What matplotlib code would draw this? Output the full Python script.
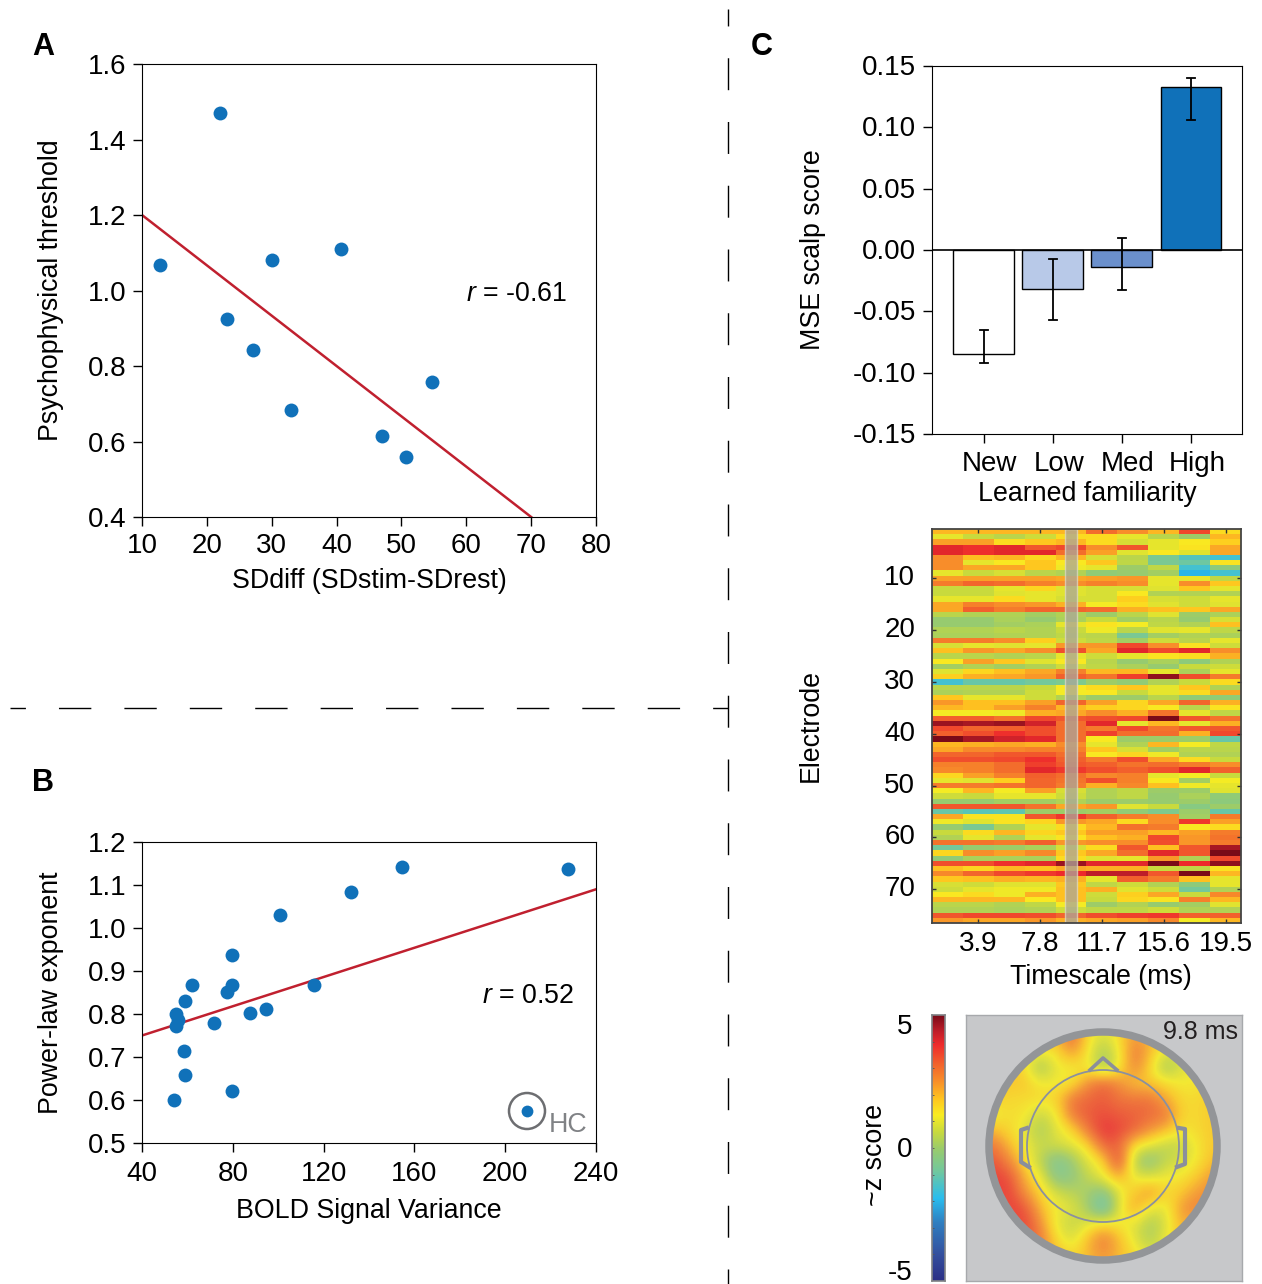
import matplotlib
matplotlib.use('Agg')
import matplotlib.pyplot as plt
import numpy as np
from matplotlib.colors import LinearSegmentedColormap
from matplotlib.patches import Circle
from matplotlib.transforms import ScaledTranslation

plt.rcParams['font.family'] = ['Liberation Sans', 'DejaVu Sans']
plt.rcParams['mathtext.fontset'] = 'custom'
plt.rcParams['mathtext.it'] = 'Liberation Sans:italic'
plt.rcParams['mathtext.rm'] = 'Liberation Sans'

W, H = 1262, 1284

# panel A
a_x = [22, 12.8, 30, 40.7, 23.1, 27.1, 33, 47, 50.7, 54.7]
a_y = [1.47, 1.067, 1.08, 1.11, 0.925, 0.842, 0.683, 0.615, 0.56, 0.757]
a_fit_x = [10, 70]
a_fit_y = [1.2, 0.4]

# panel B
b_x = [227.7, 154.5, 132, 101, 79.6, 62, 79.6, 77.4, 59, 55, 55.9, 55, 71.7, 87.6, 94.6,
       115.8, 58.5, 59, 79.6, 54]
b_y = [1.137, 1.142, 1.084, 1.03, 0.937, 0.867, 0.867, 0.851, 0.83, 0.80, 0.786, 0.772,
       0.78, 0.802, 0.812, 0.867, 0.714, 0.658, 0.621, 0.6]
b_fit_x = [40, 240]
b_fit_y = [0.75, 1.09]
hc_x, hc_y = 209.6, 0.574

# panel C bars
bar_names = ['New', 'Low', 'Med', 'High']
bar_vals = [-0.085, -0.032, -0.014, 0.133]
bar_lo = [-0.092, -0.057, -0.033, 0.106]
bar_hi = [-0.065, -0.007, 0.010, 0.140]
bar_colors = ['white', '#b8c9e8', '#6b90cc', '#1071b9']

# electrode x timescale, z scores
heat_rows = [
    [2, 2, 2, 2, 2, 3, 2.5, 2, 3.5, 1.5],
    [1, .6, .4, .7, 1.5, 1.5, 1, .4, 0, 2],
    [2.3, 2.3, 1.5, 1.8, 2, 1.5, .8, 1, 1.3, 1.7],
    [4, 3.8, 4, 3.3, 3.5, 2.5, 3.3, 1, 1.4, 2.2],
    [4, 3.8, 4, 4, 3, 2.3, .9, 1.3, .9, 2.2],
    [2.5, 1.9, 2, 1.6, 2, .8, .4, -.7, -1.3, -1.5],
    [2.5, 1, 1.3, 1.8, 1.3, 1.8, .5, -.7, -.9, 1.4],
    [2.5, 2.2, 2.2, 1.8, 1.1, 1, 0, .5, -1.5, -.3],
    [1, .6, .8, .4, .3, -.2, -.1, .1, -2, -1.5],
    [2.3, 2.3, 2.3, 2.3, 2.2, 2.3, 2.4, 1, 1, .5],
    [2.8, 3.1, 3, 2.7, 2.5, 2.7, 2.5, 1, 2.5, 1.8],
    [.6, .6, 1, 1.6, .9, .8, .8, .9, 1.8, 1],
    [.6, .6, .9, 1, .9, .8, 1.3, .3, .3, .3],
    [1, 1, 1.5, 1, .8, .8, 1.7, .8, .7, 1],
    [2.2, 2.7, 2.5, 2.4, 2.1, 1.2, 1.5, .9, .7, .9],
    [2.2, 3.2, 2.8, 3.1, 3.1, 3, 2.1, 1.9, 1.8, 2.2],
    [.4, .3, .3, .1, .3, 0, .4, .9, 0, .2],
    [-.1, -.1, .2, -.1, .2, .6, .1, .4, -.1, .8],
    [-.1, -.1, .1, .2, 1, 1.4, 1.2, .5, .3, 1.9],
    [.3, .3, .4, .3, .6, 1.1, .4, .9, 1, .5],
    [.2, .2, .3, .3, .5, .4, -.7, .1, .3, .2],
    [2.8, 2.8, 2.5, 1.7, .7, .5, .1, .7, .4, 1],
    [.8, 1, .9, 1, 2.4, 2.4, 3.5, 2.5, 1.4, .7],
    [1.9, 2.4, 2.2, 2.5, 3.4, 2.2, 4, 3.5, 4, 2.5],
    [.4, .4, .3, .4, 1, .7, 1, 1.4, 1.5, 2.1],
    [1.3, 2.3, 1.8, .9, 1.3, .4, -.1, .2, -.3, .3],
    [.1, .3, .1, .3, .7, .5, .2, -.1, .6, .7],
    [.9, 1.6, 1.9, 2.2, 2.7, 2, 2, 1, .2, 1],
    [1.7, 2.1, 2.2, 2.4, 3.2, 2.9, 3.6, 4.8, 3.4, 2.8],
    [-1.5, -1, -1, -.8, -.6, 0, -.2, .3, .6, 1.5],
    [.4, .4, .4, .6, 1.3, 1.5, 1.8, 1, 1.8, .3],
    [.2, .3, .3, .7, 1.2, 1.3, .6, 1, 1.5, 2.2],
    [1.8, 1, 1, .7, .3, 0, 0, .4, -.2, -.2],
    [2.4, 1.9, 1.9, 2.3, 3.1, 2.3, 1.6, 2.2, 3.1, 2.1],
    [2, 1.9, 2.3, 2.7, 2, 1.7, 1.6, 1.3, .4, 1.4],
    [1.2, 1.2, 1.1, 2.1, 2.2, 2.5, 2.1, 2.9, 1, .5],
    [3.2, 3.2, 2.9, 3.5, 3.3, 3.4, 3.5, 5, 3.3, 2.9],
    [4.7, 4.6, 4.7, 4.2, 3, 4, 1, 2, 1, 2.1],
    [3.5, 3.1, 3.2, 3.4, 3, 2.8, 3.5, 2.9, 3.3, 3.3],
    [3.2, 3.4, 3.8, 3.4, 3, 3.6, 3, 3, 2.1, 3.5],
    [5, 4.6, 4.2, 4, 3, 1.3, 0, 0, 0, -1],
    [2, 2.1, 2.2, 2.1, 2.5, 1, .3, 2, 1.2, .5],
    [2.2, 2.6, 2.6, 2.7, 2.7, 1.8, .8, .1, .4, .4],
    [3.1, 3.1, 3.3, 3.3, 3, 1.3, 1.6, 1.1, .3, .3],
    [3.4, 3.4, 3.5, 3.8, 3.2, 2.8, 3.4, 2.2, 1.5, .6],
    [2.7, 2.7, 3, 3.6, 3.3, 3.2, 2.9, 3, 2.8, 2.5],
    [2.6, 2.7, 3, 4, 3.7, 3.4, 3.2, 3.4, 4, 3.2],
    [1.6, 2.3, 2.7, 3.2, 3, 2.6, 2.7, 1, 1.2, .6],
    [1, .9, 1.7, 3.1, 2.9, 3.4, 2.7, 1.3, .1, 1.2],
    [2.8, 2.8, 2.9, 3.1, 2.8, 2.1, 2.6, 1.9, 1.1, 1],
    [1.2, 2, 1.2, 2.3, .8, .3, .5, 0, 0, .9],
    [.7, .6, 1, 1, .7, .3, .5, -.1, .2, -.2],
    [-.1, -.1, .1, .1, .3, 0, 0, -.1, 0, -.3],
    [3.3, 3.3, 3.3, 2.9, 2.2, 2.4, .9, .6, -.4, 0],
    [-1, -1.2, -1.1, 0, 0, .1, -.2, -.6, 0, -1],
    [2.2, 1.4, 1.4, 3.3, 3.7, 3.2, 2.8, 2.5, .1, 2.8],
    [1.1, .9, 1.4, 1.6, 2.4, 2.2, 1.5, 2.5, 3.7, 2.3],
    [-.1, -.7, .3, 1, 1.5, 2, 2.9, 2.8, 1.3, 1.5],
    [.6, 1.5, 2, 1.6, 1.8, 2.3, 2.3, 2, 2.3, 2.8],
    [.3, 1, .3, 1, 1.4, 1.9, 2.1, 3.5, 2.4, 2.9],
    [2.9, 2.9, 2.8, 3.2, 2.4, 2.5, 2.5, 3.4, 2.4, 2.8],
    [-.8, -.1, 0, .2, .8, 1.5, 3.3, 1.9, 3.3, 4.6],
    [1.6, 2.5, 2.3, 2.6, 1.8, 2.2, 3, 4, 3.3, 5],
    [-.2, .2, .2, .2, 1.5, .9, 1, 2.4, .3, 3.5],
    [3.4, 3.4, 3.8, 4, 4.7, 4, 4, 5, 3.9, 4.8],
    [1.9, 1.6, 2, 1.9, 2.2, 2.1, 2.1, .6, .5, 1.4],
    [2.6, 3.1, 3.5, 3.7, 3.9, 4.4, 4.4, 3.3, 5, 2],
    [1.8, 1.9, 2.1, 2, 2.1, 1, 3.2, 2.8, 1.9, 1],
    [.8, .7, .9, .9, 1.8, .5, .7, .3, -.3, 1],
    [.7, 1, 1.1, 1.1, 1.9, 2.1, .9, .7, -.8, .3],
    [1.3, 1.5, 1.1, 2.1, 1.9, .7, 1.7, 2.2, .6, 2.6],
    [2, 2, 2, 1.3, 1.9, .6, 1.6, 1.4, 2.7, 2],
    [.4, .4, .3, .5, 1.2, 0, .3, -.1, .1, .9],
    [.3, .3, .2, .3, .7, .5, .5, .7, .3, .3],
    [3.3, 3.5, 3.5, 3.4, 3.1, 3.4, 3.6, 3.7, 3.2, 3.2],
    [2.4, 2.2, 2.2, 2.4, 2.1, 2.2, 2.3, 2.6, 1.2, 2],
]
heat_xticks = [3.9, 7.8, 11.7, 15.6, 19.5]
heat_yticks = [10, 20, 30, 40, 50, 60, 70]

# scalp map at 9.8 ms
topo = [
    [2, 2, 2, 2, 2, 3.3, 1.5, .8, 1.5, 2.5, 2, 1.5, 1.5, 1.5, 1.5],
    [2, 2, 1.5, 1.3, 1.4, 2.6, 1.3, .1, 1.2, 3, 2, 1, 1, 1.5, 1.5],
    [2, 2, 1.4, -.1, 1.2, 1.2, 1.3, -.1, 1.2, 2.9, 1.5, -.1, .9, 1.3, 1.5],
    [1.8, 1.8, 1.8, 1.2, 1.2, 1.3, 2.6, 3.3, 2.6, 1.8, 1.8, 1.5, 1.2, 1.3, 1.5],
    [1.8, 1.5, 1.5, 1.5, 1.6, 3, 3.2, 3.4, 3, 3, 3, 2.2, 1.5, 1.5, 1.8],
    [1, 1.5, 1.3, .6, 1.2, 3, 3.4, 3.6, 3.4, 3.3, 3.2, 3, 1.6, 1.5, 1.8],
    [2, 1.5, 1, .1, 1, 1.5, 3, 4, 3.7, 3.3, 2.5, 2, 1.3, 1.5, 1.8],
    [3, 2, 1.2, .6, .8, 1, 1.5, 3.3, 3.3, 1.3, 1, .4, .6, 1.3, 1.8],
    [3.5, 2.7, 1.5, .4, -.8, -.1, 1, 1.5, 4, .2, -.5, .6, .8, 1.3, 2],
    [3.8, 3.6, 2, 1.2, -.6, -.3, .5, 1.2, 2.2, 1, .9, 1.2, 1.3, 1.8, 2.5],
    [3.7, 3.8, 2.5, 1.6, .8, .4, .1, -.6, 1, 1.8, 2.6, 1.5, 1.8, 2.5, 2.6],
    [3, 3.9, 3.5, 2, 1.2, 1, .1, -1.6, 1, 2.4, 1, 1, 2.5, 2.8, 2.5],
    [3, 3.5, 3.8, 2.6, 1, .5, 1, 1.6, 1.2, 1, .1, .9, 2.2, 2, 2],
    [3, 3, 3.5, 3, 1.5, .8, 2, 3, 2, 1, .2, 1.2, 1.8, 1.8, 1.8],
    [3, 3, 3, 2.5, 2, 1.5, 2, 2.5, 2, 1.5, 1, 1.2, 1.5, 1.5, 1.5],
]

# colour stops
z_stops = [-5, -4, -2.8, -1.9, -0.9, 0, 0.6, 1.25, 1.8, 2.5, 3.2, 3.9, 4.4, 5]
z_colors = ['#2b2f86', '#34509f', '#2f7fc1', '#29bdef', '#70c8a0', '#9ccc6a', '#c8da3e',
            '#f9ed22', '#ffc91f', '#f9902a', '#f2602d', '#ee2a2c', '#c01e2a', '#7a0a18']
zcmap = LinearSegmentedColormap.from_list(
    'zscore', [((z + 5) / 10, c) for z, c in zip(z_stops, z_colors)], N=256)

BLUE = '#1071b9'
RED = '#c0202f'
FS = 19.3
TICK_FS = 20


def px_axes(x0, y0, x1, y1, **kw):
    return fig.add_axes([x0 / W, 1 - y1 / H, (x1 - x0) / W, (y1 - y0) / H], **kw)


def nudge(labels, dx_px, dy_px):
    # shift tick labels by some pixels, dy positive is up
    off = ScaledTranslation(dx_px / 100, dy_px / 100, fig.dpi_scale_trans)
    for lab in labels:
        lab.set_transform(lab.get_transform() + off)


fig = plt.figure(figsize=(W / 100, H / 100), dpi=100)

# overlay in pixel coordinates, for dashes and panel letters
over = px_axes(0, 0, W, H, zorder=10)
over.set_xlim(0, W)
over.set_ylim(H, 0)
over.axis('off')
over.plot([10, 728], [708, 708], color='black', lw=1, linestyle=(12.2, (23.3, 23.8)))
over.plot([728, 728], [9, 1284], color='black', lw=1, linestyle=(10.8, (23, 22.9)))
for letter, lx, ly in [('A', 32, 47), ('B', 32, 783), ('C', 751, 47)]:
    over.text(lx, ly, letter, fontsize=22, fontweight='bold', va='center', ha='left')

# A
ax = px_axes(142, 64, 596, 517)
ax.scatter(a_x, a_y, s=100, color=BLUE, zorder=3, linewidths=0)
ax.plot(a_fit_x, a_fit_y, color=RED, lw=1.8)
ax.set_xlim(10, 80)
ax.set_ylim(0.4, 1.6)
ax.set_xticks(range(10, 81, 10))
ax.set_yticks(np.arange(0.4, 1.61, 0.2))
ax.set_yticklabels(['0.4', '0.6', '0.8', '1.0', '1.2', '1.4', '1.6'])
ax.tick_params(labelsize=TICK_FS, length=6.5, width=1, pad=5)
ax.set_xlabel('SDdiff (SDstim-SDrest)', fontsize=FS, labelpad=6.5)
ax.set_ylabel('Psychophysical threshold', fontsize=FS, labelpad=17)
over.text(466, 294, r'$\mathit{r}$ = -0.61', fontsize=FS, va='center')

# B
ax = px_axes(142, 842, 596, 1143)
ax.scatter(b_x, b_y, s=100, color=BLUE, zorder=3, linewidths=0)
ax.plot(b_fit_x, b_fit_y, color=RED, lw=1.8)
ax.set_xlim(40, 240)
ax.set_ylim(0.5, 1.2)
ax.set_xticks(range(40, 241, 40))
ax.set_yticks(np.arange(0.5, 1.21, 0.1))
ax.set_yticklabels(['0.5', '0.6', '0.7', '0.8', '0.9', '1.0', '1.1', '1.2'])
ax.tick_params(labelsize=TICK_FS, length=6.5, width=1, pad=5)
ax.tick_params(axis='x', pad=6.5)
ax.set_xlabel('BOLD Signal Variance', fontsize=FS, labelpad=8)
ax.set_ylabel('Power-law exponent', fontsize=FS, labelpad=17)
over.text(482, 996, r'$\mathit{r}$ = 0.52', fontsize=FS, va='center')
ax.scatter([hc_x], [hc_y], s=72, color=BLUE, zorder=3, linewidths=0)
over.add_patch(Circle((527, 1111), 18, fill=False, edgecolor='#6d6e71', lw=1.8))
over.text(549, 1125, 'HC', fontsize=FS, color='#808285', va='center')

# C bars
ax = px_axes(932, 66, 1242, 434)
pos = np.arange(1, 5)
ax.bar(pos, bar_vals, width=0.88, color=bar_colors, edgecolor='black', linewidth=1)
ax.axhline(0, color='black', lw=1.2)
ax.vlines(pos, bar_lo, bar_hi, color='black', lw=1.3, zorder=4)
for p, lo, hi in zip(pos, bar_lo, bar_hi):
    ax.plot([p - 0.055, p + 0.055], [lo, lo], color='black', lw=1.3, zorder=4)
    ax.plot([p - 0.055, p + 0.055], [hi, hi], color='black', lw=1.3, zorder=4)
ax.set_xlim(0.25, 4.74)
ax.set_ylim(-0.15, 0.15)
ax.set_xticks(pos)
ax.set_xticklabels(bar_names)
ax.set_yticks(np.arange(-0.15, 0.151, 0.05))
ax.set_yticklabels(['-0.15', '-0.10', '-0.05', '0.00', '0.05', '0.10', '0.15'])
ax.tick_params(labelsize=TICK_FS, length=6.5, width=1, pad=5)
ax.tick_params(axis='x', pad=5.5)
nudge(ax.get_xticklabels(), 6, 0)
nudge(ax.get_yticklabels(), 0, 1)
ax.set_ylabel('MSE scalp score', fontsize=FS, labelpad=19)
over.text(1087, 494, 'Learned familiarity', fontsize=FS, ha='center', va='center')

# C heat map
ax = px_axes(932, 529, 1241, 923)
heat = np.array(heat_rows)
ax.imshow(heat, cmap=zcmap, vmin=-5, vmax=5, aspect='auto', interpolation='nearest',
          extent=[0.975, 20.475, 76.5, 0.5])
ax.axvspan(9.75 - 0.38, 9.75 + 0.38, facecolor='#aaa69c', edgecolor='#ddd8c8', alpha=0.75, lw=1)
ax.set_xticks(heat_xticks)
ax.set_yticks(heat_yticks)
ax.tick_params(axis='both', direction='in', top=True, right=True, length=3, width=1,
               color='#333333', labelsize=TICK_FS)
ax.tick_params(axis='y', pad=12)
ax.tick_params(axis='x', pad=6)
nudge(ax.get_yticklabels(), 0, 3)
for s in ax.spines.values():
    s.set_linewidth(1.3)
    s.set_color('#444444')
over.text(1101, 977, 'Timescale (ms)', fontsize=FS, ha='center', va='center')
over.text(811, 726, 'Electrode', fontsize=FS, rotation=90, ha='center', va='center')

# colour bar
ax = px_axes(932, 1015, 945, 1281)
grad = np.linspace(5, -5, 256).reshape(-1, 1)
ax.imshow(grad, cmap=zcmap, vmin=-5, vmax=5, aspect='auto', extent=[0, 1, -5, 5])
ax.set_xticks([])
ax.set_yticks([-4.6, 0.05, 4.66])
ax.set_yticklabels(['-5', '0', '5'])
ax.set_yticks(range(-4, 5), minor=True)
ax.tick_params(axis='y', which='major', length=0, pad=14, labelsize=TICK_FS)
ax.tick_params(axis='y', which='minor', direction='in', length=1.5, width=0.6, color='#555555')
for s in ax.spines.values():
    s.set_linewidth(1.2)
    s.set_color('#808285')
over.text(875, 1155, '~z score', fontsize=FS, rotation=90, va='center', ha='center')

# scalp map
ax = px_axes(966, 1015, 1242, 1281)
ax.set_facecolor('#c7c8ca')
cx, cy = 1103, 1146
span = 117.5
im = ax.imshow(np.array(topo), cmap=zcmap, vmin=-5, vmax=5, aspect='auto', interpolation='bicubic',
               alpha=0.9, extent=[cx - span, cx + span, cy + span, cy - span])
im.set_clip_path(Circle((cx, cy), 111, transform=ax.transData))
ax.set_xlim(966, 1242)
ax.set_ylim(1281, 1015)
ax.add_patch(Circle((cx, cy), 114, fill=False, edgecolor='#939598', lw=5.4))
ax.add_patch(Circle((cx, cy), 76, fill=False, edgecolor='#8a90a0', lw=1.3))
ax.plot([1090, 1103, 1117], [1070, 1058, 1070], color='#8a8f9c', lw=2.6, solid_joinstyle='round')
ax.plot([1027, 1021, 1021, 1029], [1128, 1130, 1162, 1167], color='#8a8f9c', lw=3, solid_joinstyle='round')
ax.plot([1179, 1185, 1185, 1177], [1128, 1129, 1164, 1167], color='#8a8f9c', lw=3, solid_joinstyle='round')
ax.set_xticks([])
ax.set_yticks([])
for s in ax.spines.values():
    s.set_color('#a7a9ac')
    s.set_linewidth(1)
over.text(1238, 1032, '9.8 ms', fontsize=18, ha='right', va='center', color='#231f20')

fig.savefig('out.png', dpi=100)
